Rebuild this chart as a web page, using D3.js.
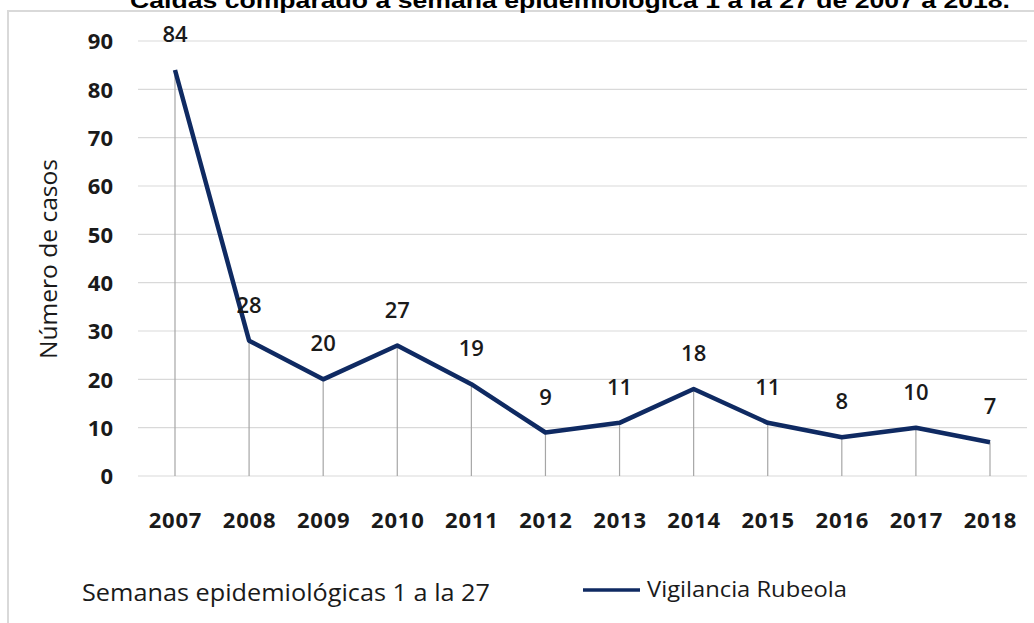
<!DOCTYPE html>
<html>
<head>
<meta charset="utf-8">
<script src="https://cdn.jsdelivr.net/npm/d3@7"></script>
<style>
  body { margin: 0; background: #fff; }
  svg { display: block; }
</style>
</head>
<body>
<div id="chart"></div>
<script>
const years = ['2007', '2008', '2009', '2010', '2011', '2012', '2013', '2014', '2015', '2016', '2017', '2018'];
const cases = [84, 28, 20, 27, 19, 9, 11, 18, 11, 8, 10, 7];
const yTicks = [0, 10, 20, 30, 40, 50, 60, 70, 80, 90];
const titleText = 'Caídas comparado a semana epidemiológica 1 a la  27 de 2007 a 2018.';
const yTitle = 'Número de casos';
const xTitle = 'Semanas epidemiológicas 1 a la 27';
const seriesName = 'Vigilancia Rubeola';

const config = {
  width: 1034,
  height: 623,
  lineColour: '#0f2a62',
  gridColour: '#d9d9d9',
  dropColour: '#a6a6a6',
  font: '"Open Sans", sans-serif'
};

const svg = d3.select('#chart').append('svg')
  .attr('width', config.width)
  .attr('height', config.height);

// chart frame (top + left edges visible)
svg.append('path')
  .attr('d', 'M8,623 L8,11 L1034,11')
  .style('fill', 'none')
  .style('stroke', config.gridColour)
  .style('stroke-width', 2);

// title, cut off at the top of the picture like in the source
svg.append('text')
  .attr('x', 570)
  .attr('y', 8)
  .attr('text-anchor', 'middle')
  .attr('textLength', 880)
  .attr('lengthAdjust', 'spacingAndGlyphs')
  .style('font-family', '"Liberation Sans", Arial, sans-serif')
  .style('font-weight', 'bold')
  .style('font-size', '22px')
  .text(titleText);

const x = d3.scalePoint().domain(years).range([175, 990]);
const y = d3.scaleLinear().domain([0, 90]).range([476, 41]);

// gridlines
svg.append('g')
  .selectAll('line')
  .data(yTicks)
  .join('line')
  .attr('x1', 138)
  .attr('x2', 1027)
  .attr('y1', d => y(d))
  .attr('y2', d => y(d))
  .style('stroke', config.gridColour)
  .style('stroke-width', 1.2);

// y axis labels
const yAxis = d3.axisLeft(y).tickValues(yTicks).tickSize(0).tickPadding(0);
svg.append('g')
  .attr('transform', 'translate(113,0)')
  .call(yAxis)
  .call(g => g.select('.domain').remove())
  .selectAll('text')
  .attr('dy', '0.36em')
  .style('font-family', config.font)
  .style('font-weight', 'bold')
  .style('font-size', '22px')
  .style('fill', '#1a1a1a');

// x axis labels
const xAxis = d3.axisBottom(x).tickSize(0).tickPadding(0);
svg.append('g')
  .attr('transform', 'translate(0,528)')
  .call(xAxis)
  .call(g => g.select('.domain').remove())
  .selectAll('text')
  .attr('dy', 0)
  .style('font-family', config.font)
  .style('font-weight', 'bold')
  .style('font-size', '22px')
  .style('letter-spacing', '0.8px')
  .style('fill', '#1a1a1a');

// drop lines
svg.append('g')
  .selectAll('line')
  .data(cases)
  .join('line')
  .attr('x1', (d, i) => x(years[i]))
  .attr('x2', (d, i) => x(years[i]))
  .attr('y1', d => y(d))
  .attr('y2', y(0))
  .style('stroke', config.dropColour)
  .style('stroke-width', 1.2);

// series line
const line = d3.line()
  .x((d, i) => x(years[i]))
  .y(d => y(d));
svg.append('path')
  .datum(cases)
  .attr('d', line)
  .style('fill', 'none')
  .style('stroke', config.lineColour)
  .style('stroke-width', 4.5)
  .style('stroke-linejoin', 'round');

// data labels
svg.append('g')
  .selectAll('text')
  .data(cases)
  .join('text')
  .attr('x', (d, i) => x(years[i]))
  .attr('y', d => y(d) - 28)
  .attr('text-anchor', 'middle')
  .style('font-family', config.font)
  .style('font-weight', 600)
  .style('font-size', '22px')
  .style('fill', '#1a1a1a')
  .text(d => d);

// y title
svg.append('text')
  .attr('transform', 'translate(57,259) rotate(-90)')
  .attr('text-anchor', 'middle')
  .attr('textLength', 200)
  .attr('lengthAdjust', 'spacingAndGlyphs')
  .style('font-family', config.font)
  .style('font-size', '23px')
  .style('fill', '#1a1a1a')
  .text(yTitle);

// x title
svg.append('text')
  .attr('x', 82)
  .attr('y', 601)
  .attr('textLength', 408)
  .attr('lengthAdjust', 'spacingAndGlyphs')
  .style('font-family', config.font)
  .style('font-size', '23px')
  .style('fill', '#1a1a1a')
  .text(xTitle);

// legend
svg.append('line')
  .attr('x1', 583)
  .attr('x2', 640)
  .attr('y1', 590)
  .attr('y2', 590)
  .style('stroke', config.lineColour)
  .style('stroke-width', 3.5);
svg.append('text')
  .attr('x', 647)
  .attr('y', 597)
  .attr('textLength', 200)
  .attr('lengthAdjust', 'spacingAndGlyphs')
  .style('font-family', config.font)
  .style('font-size', '21px')
  .style('fill', '#1a1a1a')
  .text(seriesName);
</script>
</body>
</html>
